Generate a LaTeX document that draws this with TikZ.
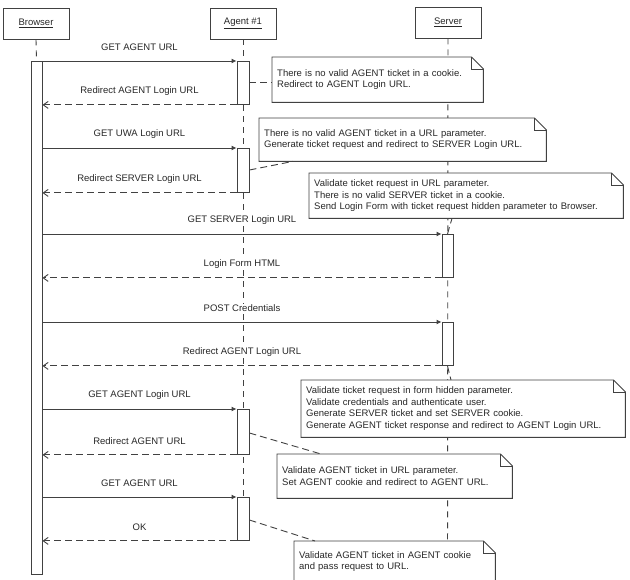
\documentclass[tikz,border=0pt]{standalone}
\usepackage{fontspec}
\setmainfont{Liberation Sans}
\usetikzlibrary{arrows.meta}
\definecolor{ln}{RGB}{65,65,65}
\definecolor{tx}{RGB}{40,40,40}
\begin{document}
\begin{tikzpicture}[x=1pt,y=-1pt,
  every node/.style={text=tx,font=\fontsize{9.5}{11.6}\selectfont},
  head/.style={draw=ln,line width=0.9pt,fill=white,minimum width=66pt,minimum height=31pt,inner sep=0pt},
  life/.style={draw=ln,line width=0.9pt,dash pattern=on 6pt off 5pt},
  actbar/.style={draw=ln,line width=0.9pt,fill=white,minimum width=12pt,inner sep=0pt,anchor=north},
  msg/.style={draw=ln,line width=0.9pt,-{Latex[length=5pt,width=5pt]}},
  ret/.style={draw=ln,line width=0.9pt,dash pattern=on 7pt off 4pt,-{Straight Barb[length=5pt,width=7pt]}},
  lbl/.style={midway,yshift=14pt,fill=white,inner sep=1pt},
  notebox/.style={rectangle,fill=white,inner xsep=5pt,inner ysep=0pt,align=left,anchor=north west},
  link/.style={draw=ln,line width=0.9pt,dash pattern=on 7pt off 4pt}]
\useasboundingbox (0,0) rectangle (630,580);
\begin{scope}
\clip (0,0) rectangle (630,580);
% headers
\node[head] (browser) at (36,23.5) {\underline{Browser}};
\node[head] (agent) at (243,23.5) {\underline{Agent \#1}};
\node[head] (server) at (448,22.5) {\underline{Server}};
% lifeline ends
\coordinate (bstart) at (36.5,61);
\coordinate (aend) at (243,497);
\coordinate (send) at (447.5,585);
% lifelines
\draw[life] (browser.south) -- (bstart);
\draw[life] (agent.south) -- (aend);
\draw[life] (server.south) -- (send);
% activation bars
\node[actbar,minimum width=11pt,minimum height=513pt] (bb) at (36.5,61) {};
\node[actbar,minimum height=43pt] (a1) at (243,61) {};
\node[actbar,minimum height=44pt] (a2) at (243,148) {};
\node[actbar,minimum height=45pt] (a3) at (243,409) {};
\node[actbar,minimum height=43pt] (a4) at (243,497) {};
\node[actbar,minimum width=11pt,minimum height=43pt] (s1) at (447.5,234) {};
\node[actbar,minimum width=11pt,minimum height=43pt] (s2) at (447.5,322) {};
% messages
\draw[msg] (bb.north east) -- (a1.north west) node[lbl] {GET AGENT URL};
\draw[ret] (a1.south west) -- (bb.east |- a1.south west) node[lbl] {Redirect AGENT Login URL};
\draw[msg] (bb.east |- a2.north west) -- (a2.north west) node[lbl] {GET UWA Login URL};
\draw[ret] (a2.south west) -- (bb.east |- a2.south west) node[lbl] {Redirect SERVER Login URL};
\draw[msg] (bb.east |- s1.north west) -- (s1.north west) node[lbl] {GET SERVER Login URL};
\draw[ret] (s1.south west) -- (bb.east |- s1.south west) node[lbl] {Login Form HTML};
\draw[msg] (bb.east |- s2.north west) -- (s2.north west) node[lbl] {POST Credentials};
\draw[ret] (s2.south west) -- (bb.east |- s2.south west) node[lbl] {Redirect AGENT Login URL};
\draw[msg] (bb.east |- a3.north west) -- (a3.north west) node[lbl] {GET AGENT Login URL};
\draw[ret] (a3.south west) -- (bb.east |- a3.south west) node[lbl] {Redirect AGENT URL};
\draw[msg] (bb.east |- a4.north west) -- (a4.north west) node[lbl] {GET AGENT URL};
\draw[ret] (a4.south west) -- (bb.east |- a4.south west) node[lbl] {OK};
% notes
\newcommand{\foldnote}[1]{%
  \draw[ln,line width=0.9pt] (#1.north west) -- ([xshift=-12pt]#1.north east) -- ([yshift=-12pt]#1.north east) -- (#1.south east) -- (#1.south west) -- cycle;
  \draw[ln,line width=0.9pt] ([xshift=-12pt]#1.north east) -- ([xshift=-12pt,yshift=-12pt]#1.north east) -- ([yshift=-12pt]#1.north east);}
\node[notebox,text width=201pt,minimum height=45pt] (n1) at (272,57) {There is no valid AGENT ticket in a cookie.\\Redirect to AGENT Login URL.};
\foldnote{n1}
\node[notebox,text width=277pt,minimum height=43pt] (n2) at (259,118) {There is no valid AGENT ticket in a URL parameter.\\Generate ticket request and redirect to SERVER Login URL.};
\foldnote{n2}
\node[notebox,text width=304pt,minimum height=45pt] (n3) at (309,173) {Validate ticket request in URL parameter.\\There is no valid SERVER ticket in a cookie.\\Send Login Form with ticket request hidden parameter to Browser.};
\foldnote{n3}
\node[notebox,text width=314pt,minimum height=57pt] (n4) at (301,380) {Validate ticket request in form hidden parameter.\\Validate credentials and authenticate user.\\Generate SERVER ticket and set SERVER cookie.\\Generate AGENT ticket response and redirect to AGENT Login URL.};
\foldnote{n4}
\node[notebox,text width=225pt,minimum height=44pt] (n5) at (277,454) {Validate AGENT ticket in URL parameter.\\Set AGENT cookie and redirect to AGENT URL.};
\foldnote{n5}
\node[notebox,text width=191pt,minimum height=41pt] (n6) at (294,541) {Validate AGENT ticket in AGENT cookie\\and pass request to URL.};
\foldnote{n6}
% note links
\draw[link] (a1.east) -- (n1.west |- a1.east);
\draw[link] ([yshift=-22pt]a2.north east) -- ([xshift=34pt]n2.south west);
\draw[link] (s1.north) -- ([xshift=143pt]n3.south west);
\draw[link] (s2.south) -- ([xshift=150pt]n4.north west);
\draw[link] ([yshift=-24pt]a3.north east) -- ([xshift=44pt]n5.north west);
\draw[link] ([yshift=-23pt]a4.north east) -- ([xshift=21pt]n6.north west);
\end{scope}
\end{tikzpicture}
\end{document}
